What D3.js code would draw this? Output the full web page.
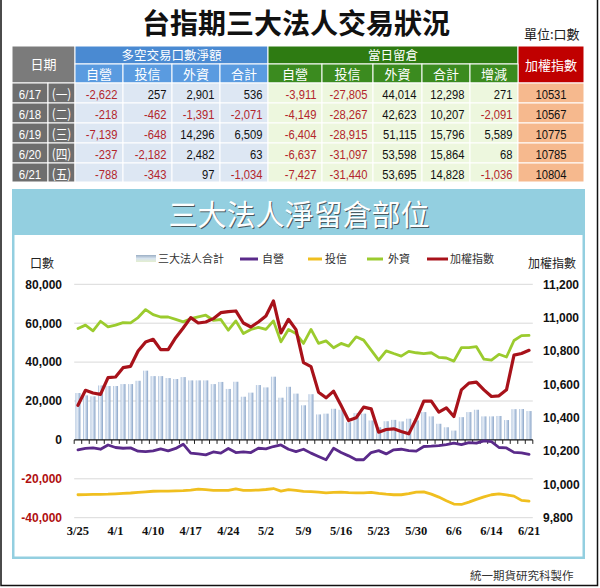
<!DOCTYPE html>
<html><head><meta charset="utf-8">
<script src="https://cdn.jsdelivr.net/npm/d3@7"></script>
<style>body{margin:0;background:#fff}svg{display:block}</style>
</head><body><svg id="c" width="600" height="588"></svg>
<script>
// ---------- chart data ----------
const dates=["3/25","3/26","3/27","3/28","3/29","4/1","4/2","4/3","4/8","4/9","4/10","4/11","4/12","4/15","4/16","4/17","4/18","4/19","4/22","4/23","4/24","4/25","4/26","4/29","4/30","5/2","5/3","5/6","5/7","5/8","5/9","5/10","5/13","5/14","5/15","5/16","5/17","5/20","5/21","5/22","5/23","5/24","5/27","5/28","5/29","5/30","5/31","6/3","6/4","6/5","6/6","6/10","6/11","6/12","6/13","6/14","6/17","6/18","6/19","6/20","6/21"];
const totalOI=[24100,22900,22400,28000,27700,27700,28700,28700,30400,35600,32800,32800,31800,31300,32300,30600,30600,30600,28700,29800,26200,29900,22200,24300,28200,27000,32500,21700,27300,23800,17800,23500,13100,13500,16000,15500,9100,13800,13500,10000,6500,9600,10300,9500,10900,10000,14300,12100,8300,6500,4800,11700,14300,15500,12100,12100,12298,10207,15796,15864,14828];
const dealer=[-5100,-4400,-4100,-4800,-2600,-3900,-4300,-4100,-5800,-6000,-5600,-4600,-5600,-4400,-2200,-6800,-7200,-7700,-6200,-6800,-4400,-6500,-6200,-6500,-4300,-4600,-3400,-2600,-4800,-6000,-4800,-6800,-8500,-10200,-4300,-6500,-8200,-10200,-10200,-6500,-5500,-7200,-5100,-4800,-5500,-5800,-3400,-3200,-2900,-2400,-1700,-2400,-1400,-1700,-500,-900,-3911,-4149,-6404,-6637,-7427];
const trust=[-28200,-28100,-28000,-28000,-27900,-27700,-27500,-27300,-27000,-26700,-26400,-26300,-26300,-26200,-26100,-25800,-25300,-25600,-25900,-26000,-26000,-25200,-25900,-25900,-25800,-25500,-25000,-26300,-25600,-26000,-26500,-26600,-26900,-27200,-27000,-26900,-27100,-27200,-27200,-27000,-27500,-27900,-28200,-28200,-27600,-26900,-26700,-27900,-29400,-31300,-33000,-33200,-32000,-30600,-29300,-28200,-27805,-28267,-28915,-31097,-31440];
const foreign=[57300,59000,56100,61000,58100,59000,60300,60200,62900,67000,64400,63200,63200,62000,60700,62300,63200,64100,61500,61900,56400,61200,54700,56800,57800,56800,61200,50400,56800,54700,49600,56800,49600,50900,47400,49600,48200,53000,51300,46200,41000,45800,44400,43100,45500,44800,44400,44800,42400,42100,40500,47400,47400,47900,41500,41000,44014,42623,51115,53598,53695];
const taiex=[10474,10564,10548,10540,10640,10644,10700,10708,10800,10854,10870,10808,10808,10880,10938,11000,10968,10974,10994,11030,11036,11040,10968,10944,10974,11010,11100,10908,10990,10928,10730,10706,10553,10519,10559,10473,10383,10399,10463,10453,10313,10329,10333,10317,10303,10393,10499,10499,10433,10459,10407,10567,10607,10613,10567,10527,10531,10567,10775,10785,10804];
const leftTicks=[80000,60000,40000,20000,0,-20000,-40000];
const rightTicks=[11200,11000,10800,10600,10400,10200,10000,9800];
const xTickLabels=["3/25","4/1","4/10","4/17","4/24","5/2","5/9","5/16","5/23","5/30","6/6","6/14","6/21"];
const seriesNames=["三大法人合計","自營","投信","外資","加權指數"];

// ---------- table data ----------
const tDates=["6/17","6/18","6/19","6/20","6/21"];
const tWeek=["(一)","(二)","(三)","(四)","(五)"];
const netDealer=[-2622,-218,-7139,-237,-788];
const netTrust=[257,-462,-648,-2182,-343];
const netForeign=[2901,-1391,14296,2482,97];
const netTotal=[536,-2071,6509,63,-1034];
const oiDealer=[-3911,-4149,-6404,-6637,-7427];
const oiTrust=[-27805,-28267,-28915,-31097,-31440];
const oiForeign=[44014,42623,51115,53598,53695];
const oiTotal=[12298,10207,15796,15864,14828];
const oiChange=[271,-2091,5589,68,-1036];
const tIndex=[10531,10567,10775,10785,10804];

const svg=d3.select("#c");
const CJK="'Noto Sans CJK TC','Noto Sans CJK SC',sans-serif";
const SANS="'Liberation Sans',Arial,sans-serif";
const loc=d3.formatLocale({decimal:".",thousands:",",grouping:[3],currency:["",""],minus:"-"});
const fmt=loc.format(",");

// outer border
svg.append("path").attr("d","M1,0V585.5H597.5V0").attr("fill","none").attr("stroke","#111").attr("stroke-width",1.5);

// title
svg.append("text").attr("x",296).attr("y",34).attr("text-anchor","middle")
  .attr("font-family",CJK).attr("font-weight",700).attr("font-size",28).attr("fill","#111").text("台指期三大法人交易狀況");
svg.append("text").attr("x",524).attr("y",39).attr("font-family",CJK).attr("font-size",13).attr("fill","#222").text("單位:口數");

// ---------- table ----------
const xs=[12,48,75,123,172,220,268,322,373,422,470,518,584];
const ys=[46,64,83,103,123,143,163,182];
const tb=svg.append("g");
function cell(c0,c1,r0,r1,fill){
  tb.append("rect").attr("x",xs[c0]).attr("y",ys[r0]).attr("width",xs[c1]-xs[c0]).attr("height",ys[r1]-ys[r0])
    .attr("fill",fill).attr("stroke","#fff").attr("stroke-width",1);
}
function ctext(x,y,t,opt={}){
  const g=tb.append("text").attr("x",x).attr("y",y).attr("text-anchor",opt.anchor||"middle")
    .attr("font-family",opt.font||CJK).attr("font-size",opt.size||13).attr("fill",opt.fill||"#fff").text(t);
  if(opt.sx) g.attr("transform",`translate(${x},${y}) scale(${opt.sx},1) translate(${-x},${-y})`);
  return g;
}
cell(0,2,0,2,"#7b7b7b"); ctext((xs[0]+xs[2])/2,69,"日期");
cell(2,6,0,1,"#4a8ad2"); ctext((xs[2]+xs[6])/2,60,"多空交易口數淨額",{size:12.5});
cell(6,11,0,1,"#2e7b12"); ctext((xs[6]+xs[11])/2,60,"當日留倉",{size:12.5});
cell(11,12,0,2,"#c00000"); ctext((xs[11]+xs[12])/2,69.5,"加權指數");
const sub1=["自營","投信","外資","合計"], sub2=["自營","投信","外資","合計","增減"];
sub1.forEach((s,i)=>{cell(2+i,3+i,1,2,"#5a9be0"); ctext((xs[2+i]+xs[3+i])/2,78.5,s);});
sub2.forEach((s,i)=>{cell(6+i,7+i,1,2,"#3b8b1f"); ctext((xs[6+i]+xs[7+i])/2,78.5,s);});
const cols=[netDealer,netTrust,netForeign,netTotal,oiDealer,oiTrust,oiForeign,oiTotal,oiChange];
tDates.forEach((d,r)=>{
  const yb=ys[2+r]+16.5;
  cell(0,1,2+r,3+r,"#6e6e6e"); ctext((xs[0]+xs[1])/2,yb,d,{font:SANS,size:13.5,sx:0.85});
  cell(1,2,2+r,3+r,"#6e6e6e"); ctext((xs[1]+xs[2])/2,yb,tWeek[r],{size:13,sx:0.9});
  cols.forEach((arr,c)=>{
    const ci=2+c;
    cell(ci,ci+1,2+r,3+r,c<4?"#dde7f3":"#edf7de");
    const v=arr[r];
    ctext(xs[ci+1]-5.5,yb,fmt(v),{font:SANS,size:13.5,sx:0.83,anchor:"end",fill:v<0?"#b3262b":"#111"});
  });
  cell(11,12,2+r,3+r,"#f6b98e");
  ctext((xs[11]+xs[12])/2,yb,String(tIndex[r]),{font:SANS,size:13.5,sx:0.83,fill:"#111"});
});

// ---------- chart frame ----------
const defs=svg.append("defs");
const bg=defs.append("linearGradient").attr("id","barg").attr("x1",0).attr("x2",1).attr("y1",0).attr("y2",0);
[[0,"#9fb7d6"],[0.3,"#eef3f9"],[0.6,"#c3d3e8"],[1,"#8aa4c6"]].forEach(s=>bg.append("stop").attr("offset",s[0]).attr("stop-color",s[1]));
const lg=defs.append("linearGradient").attr("id","legg").attr("x1",0).attr("x2",0).attr("y1",0).attr("y2",1);
[[0,"#9aaec4"],[0.5,"#d7e3ee"],[1,"#e4efcf"]].forEach(s=>lg.append("stop").attr("offset",s[0]).attr("stop-color",s[1]));

svg.append("rect").attr("x",12).attr("y",189).attr("width",573).attr("height",370).attr("fill","#93cfe0");
svg.append("rect").attr("x",14.5).attr("y",235).attr("width",568).attr("height",321.5).attr("fill","#fff");
svg.append("text").attr("x",300).attr("y",227).attr("text-anchor","middle").attr("font-family",CJK)
  .attr("font-size",29).attr("fill","#4a5a60").text("三大法人淨留倉部位");
svg.append("text").attr("x",299).attr("y",226).attr("text-anchor","middle").attr("font-family",CJK)
  .attr("font-size",29).attr("fill","#fff").text("三大法人淨留倉部位");

// legend
const colors={dealer:"#5a2a8a",trust:"#f0bf1f",foreign:"#9bcb2e",taiex:"#a8121a"};
const leg=svg.append("g").attr("font-family",CJK).attr("font-size",11).attr("fill","#333");
leg.append("rect").attr("x",136).attr("y",255).attr("width",20).attr("height",7).attr("fill","url(#legg)");
leg.append("text").attr("x",158).attr("y",263).text(seriesNames[0]);
[[240,258,262,colors.dealer,1],[308,322,325,colors.trust,2],[367,383,388,colors.foreign,3],[427,448,450,colors.taiex,4]].forEach(l=>{
  leg.append("line").attr("x1",l[0]).attr("x2",l[1]).attr("y1",259).attr("y2",259).attr("stroke",l[3]).attr("stroke-width",3);
  leg.append("text").attr("x",l[2]).attr("y",263).text(seriesNames[l[4]]);
});

// axis titles
svg.append("text").attr("x",30).attr("y",268).attr("font-family",CJK).attr("font-size",12).attr("fill","#222").text("口數");
svg.append("text").attr("x",528).attr("y",268).attr("font-family",CJK).attr("font-size",12).attr("fill","#222").text("加權指數");

// scales
const x=d3.scaleBand().domain(dates).range([74.2,532.8]).paddingInner(0.34).paddingOuter(0.17);
const yL=d3.scaleLinear().domain([-40000,80000]).range([517.7,284.3]);
const yR=d3.scaleLinear().domain([9800,11200]).range([517.7,284.3]);
const cx=d=>x(d)+x.bandwidth()/2;

const plot=svg.append("g");
// gridlines
plot.selectAll(".grid").data(leftTicks.filter(t=>t!==0)).join("line")
  .attr("x1",74.2).attr("x2",532.8).attr("y1",d=>yL(d)).attr("y2",d=>yL(d)).attr("stroke","#d9d9d9").attr("stroke-width",1);

// bars
plot.selectAll(".bar").data(dates).join("rect")
  .attr("x",d=>x(d)).attr("width",x.bandwidth())
  .attr("y",(d,i)=>yL(totalOI[i])).attr("height",(d,i)=>yL(0)-yL(totalOI[i]))
  .attr("fill","url(#barg)");

// zero axis + ticks
plot.append("line").attr("x1",74.2).attr("x2",532.8).attr("y1",yL(0)).attr("y2",yL(0)).attr("stroke","#111").attr("stroke-width",1.3);
const bounds=d3.range(dates.length+1).map(i=>74.2+i*x.step());
plot.selectAll(".tk").data(bounds).join("line").attr("x1",d=>d).attr("x2",d=>d)
  .attr("y1",yL(0)).attr("y2",yL(0)+4).attr("stroke","#222").attr("stroke-width",1);

// lines
function drawLine(vals,scale,color,w){
  const ln=d3.line().x((d,i)=>cx(dates[i])).y(d=>scale(d));
  plot.append("path").attr("d",ln(vals)).attr("fill","none").attr("stroke",color).attr("stroke-width",w)
    .attr("stroke-linejoin","round").attr("stroke-linecap","round");
}
drawLine(trust,yL,colors.trust,2.8);
drawLine(dealer,yL,colors.dealer,2.8);
drawLine(foreign,yL,colors.foreign,2.8);
drawLine(taiex,yR,colors.taiex,3.2);

// left axis labels
svg.append("g").selectAll("text").data(leftTicks).join("text")
  .attr("x",62).attr("y",d=>yL(d)).attr("dy","0.36em").attr("text-anchor","end")
  .attr("font-family",SANS).attr("font-weight","bold").attr("font-size",12)
  .attr("fill",d=>d<0?"#b00f0f":"#111").text(d=>fmt(d));
// right axis labels
svg.append("g").selectAll("text").data(rightTicks).join("text")
  .attr("x",543).attr("y",d=>yR(d)).attr("dy","0.36em")
  .attr("font-family",SANS).attr("font-weight","bold").attr("font-size",12)
  .attr("fill","#111").text(d=>fmt(d));
// x labels
svg.append("g").selectAll("text").data(xTickLabels).join("text")
  .attr("x",d=>cx(d)).attr("y",535).attr("text-anchor","middle")
  .attr("font-family","'Liberation Serif','Times New Roman',serif").attr("font-weight","bold").attr("font-size",12.5)
  .attr("fill","#111").text(d=>d);

// footer
svg.append("text").attr("x",470).attr("y",580).attr("font-family",CJK).attr("font-size",11.5).attr("fill","#333").text("統一期貨研究科製作");
</script></body></html>
